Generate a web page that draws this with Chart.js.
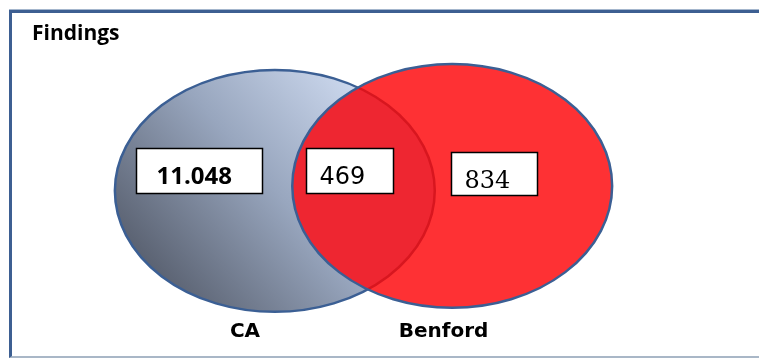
<!DOCTYPE html>
<html>
<head>
<meta charset="utf-8">
<script src="https://cdn.jsdelivr.net/npm/chart.js@4/dist/chart.umd.min.js"></script>
<style>
  html, body { margin: 0; padding: 0; background: #fff; }
  #wrap { position: relative; width: 759px; height: 358px; overflow: hidden; }
  #frame {
    position: absolute; left: 9px; top: 10px; width: 800px; height: 343px;
    border-top: 3px solid #3d5f92; border-left: 3px solid #3d5f92;
    border-bottom: 2px solid #a9b7c7; box-shadow: 0 -1px 0 #a4b6cd;
  }
  canvas { position: absolute; left: 0; top: 0; }
</style>
</head>
<body>
<div id="wrap"><div id="frame"></div><canvas id="venn" width="759" height="358"></canvas></div>
<script>
// Sets and the number of findings in each region of the diagram
const setNames = ['CA', 'Benford'];
const regionNames = ['CA only', 'CA and Benford', 'Benford only'];
const regionCounts = [11048, 469, 834];

// Where each set ellipse sits, in axis units (0..100 on both axes)
const setLayout = [
  { cx: 33.4, cy: 54.3, rx: 22.0, ry: 39.3, labelX: 29.3, labelY: 6.8 },
  { cx: 57.8, cy: 55.9, rx: 22.0, ry: 39.6, labelX: 56.6, labelY: 6.8 }
];
// Where each count box sits, in axis units
const regionLayout = [
  { x: 23.0, y: 60.9, w: 126, h: 45, padX: 20, base: 35, font: 'bold 24px "Open Sans"' },
  { x: 43.7, y: 60.9, w: 87, h: 45, padX: 13, base: 35, font: '24px "DejaVu Sans"' },
  { x: 63.5, y: 59.9, w: 86, h: 43, padX: 13, base: 35, font: '24px "DejaVu Serif"' }
];

const fmt = n => String(n).replace(/\B(?=(\d{3})+(?!\d))/g, '.');

function ellipsePath(ctx, e) {
  ctx.beginPath();
  ctx.ellipse(e.cx, e.cy, e.rx, e.ry, 0, 0, Math.PI * 2);
  ctx.closePath();
}

const vennPlugin = {
  id: 'vennDiagram',
  afterDatasetsDraw(chart) {
    const { ctx, scales: { x, y } } = chart;
    const ell = setLayout.map(s => ({
      cx: x.getPixelForValue(s.cx),
      cy: y.getPixelForValue(s.cy),
      rx: Math.abs(x.getPixelForValue(s.cx + s.rx) - x.getPixelForValue(s.cx)),
      ry: Math.abs(y.getPixelForValue(s.cy + s.ry) - y.getPixelForValue(s.cy))
    }));
    const [a, b] = ell;
    const border = '#3b5f94';

    ctx.save();
    // CA: blue-grey gradient
    const g = ctx.createLinearGradient(a.cx - a.rx * 0.75, a.cy + a.ry * 0.85, a.cx + a.rx * 0.75, a.cy - a.ry * 0.85);
    g.addColorStop(0, '#555c6b');
    g.addColorStop(0.5, '#98a6be');
    g.addColorStop(1, '#d6e2f7');
    ellipsePath(ctx, a);
    ctx.fillStyle = g;
    ctx.fill();
    ctx.lineWidth = 2.5;
    ctx.strokeStyle = border;
    ctx.stroke();

    // Benford: red
    ellipsePath(ctx, b);
    ctx.fillStyle = '#fe3134';
    ctx.fill();

    // Overlap region, slightly darker red
    ctx.save();
    ellipsePath(ctx, a);
    ctx.clip();
    ellipsePath(ctx, b);
    ctx.fillStyle = '#ee2631';
    ctx.fill();
    ctx.restore();

    // CA outline seen through the red
    ctx.save();
    ellipsePath(ctx, b);
    ctx.clip();
    ellipsePath(ctx, a);
    ctx.lineWidth = 2.5;
    ctx.strokeStyle = '#d8161f';
    ctx.stroke();
    ctx.restore();

    // Benford outline
    ellipsePath(ctx, b);
    ctx.lineWidth = 2.5;
    ctx.strokeStyle = border;
    ctx.stroke();

    // Set names under the ellipses
    ctx.fillStyle = '#000';
    ctx.font = 'bold 20px "DejaVu Sans"';
    ctx.textAlign = 'center';
    ctx.textBaseline = 'alphabetic';
    setNames.forEach((name, i) => {
      ctx.fillText(name, x.getPixelForValue(setLayout[i].labelX), y.getPixelForValue(setLayout[i].labelY));
    });

    // Count boxes
    ctx.textAlign = 'left';
    regionCounts.forEach((count, i) => {
      const r = regionLayout[i];
      const px = x.getPixelForValue(r.x), py = y.getPixelForValue(r.y);
      const left = Math.round(px - r.w / 2) + 0.5, top = Math.round(py - r.h / 2) + 0.5;
      ctx.fillStyle = '#fff';
      ctx.fillRect(left, top, r.w, r.h);
      ctx.lineWidth = 1.5;
      ctx.strokeStyle = '#000';
      ctx.strokeRect(left, top, r.w, r.h);
      ctx.fillStyle = '#000';
      ctx.font = r.font;
      ctx.fillText(fmt(count), left + r.padX, top + r.base);
    });
    ctx.restore();
  }
};

new Chart(document.getElementById('venn'), {
  type: 'scatter',
  data: {
    labels: regionNames,
    datasets: [{ label: 'Findings', data: [], pointRadius: 0 }]
  },
  options: {
    responsive: false,
    animation: false,
    events: [],
    layout: { padding: { left: 32, right: 0, top: 0, bottom: 0 } },
    scales: {
      x: { type: 'linear', min: 0, max: 100, display: false },
      y: { type: 'linear', min: 0, max: 100, display: false }
    },
    plugins: {
      legend: { display: false },
      tooltip: { enabled: false },
      title: {
        display: true,
        text: 'Findings',
        align: 'start',
        color: '#000',
        font: { family: '"Open Sans"', size: 21, weight: 'bold', lineHeight: 1.2 },
        padding: { top: 21, bottom: 4 }
      }
    }
  },
  plugins: [vennPlugin]
});
</script>
</body>
</html>
